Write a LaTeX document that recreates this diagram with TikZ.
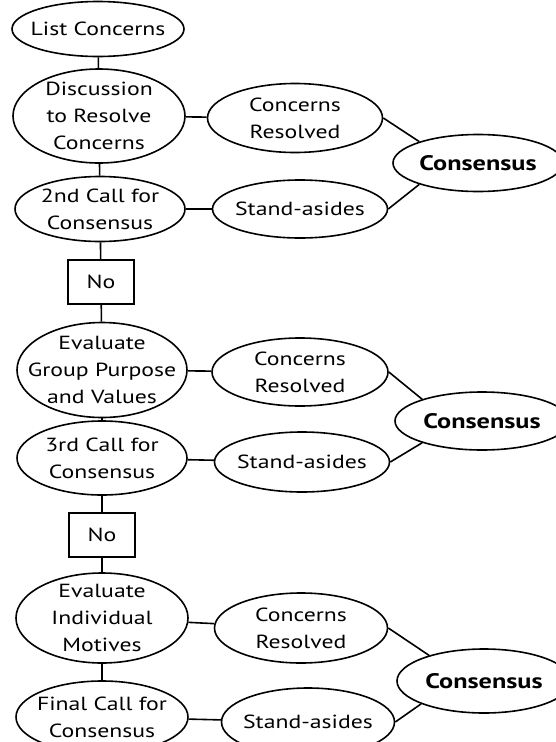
\documentclass[tikz,border=0pt]{standalone}
\usepackage{fontspec}
\setmainfont[FakeStretch=1.25]{PT Sans}
\usetikzlibrary{shapes.geometric}

\begin{document}
\begin{tikzpicture}[x=1pt,y=-1pt,line width=1.6pt,
	oval/.style={ellipse,draw,align=center,inner xsep=-20pt,inner ysep=-14pt,
		font=\fontsize{19}{27}\selectfont},
	nobox/.style={rectangle,draw,inner sep=0pt,minimum width=66pt,minimum height=44pt,
		font=\fontsize{19}{27}\selectfont},
	cons/.style={font=\fontsize{21}{27}\selectfont\bfseries},
	wh/.style 2 args={minimum width=#1pt,minimum height=#2pt}]
	\clip (0,0) rectangle (556,742);
	
	% left column
	\node[oval,wh={172}{55}] (list) at (98,29) {List Concerns};
	\node[oval,wh={172}{94}] (disc) at (99,116) {Discussion\\to Resolve\\Concerns};
	\node[oval,wh={170}{65}] (callA) at (100,209) {2nd Call for\\Consensus};
	\node[nobox] (noA) at (101,282) {No};
	\node[oval,wh={170}{95}] (grp) at (102,370) {Evaluate\\Group Purpose\\and Values};
	\node[oval,wh={170}{74}] (callB) at (102,458) {3rd Call for\\Consensus};
	\node[nobox] (noB) at (102,535) {No};
	\node[oval,wh={172}{90}] (ind) at (102,618) {Evaluate\\Individual\\Motives};
	\node[oval,wh={172}{72}] (callC) at (102,717) {Final Call for\\Consensus};
	
	% right side
	\node[oval,wh={175}{69}] (resA) at (295,118) {Concerns\\Resolved};
	\node[oval,wh={175}{58}] (sideA) at (300,209) {Stand-asides};
	\node[oval,cons,wh={170}{57}] (consA) at (478,163) {Consensus};
	\node[oval,wh={176}{68}] (resB) at (300,372) {Concerns\\Resolved};
	\node[oval,wh={175}{60}] (sideB) at (302,462) {Stand-asides};
	\node[oval,cons,wh={174}{58}] (consB) at (482,421) {Consensus};
	\node[oval,wh={173}{70}] (resC) at (301,628) {Concerns\\Resolved};
	\node[oval,wh={173}{68}] (sideC) at (308,722) {Stand-asides};
	\node[oval,cons,wh={174}{64}] (consC) at (484,681) {Consensus};
	
	\foreach \a/\b in {list/disc,disc/callA,callA/noA,noA/grp,grp/callB,callB/noB,noB/ind,ind/callC,
		disc/resA,callA/sideA,grp/resB,callB/sideB,ind/resC,callC/sideC}
		\draw (\a)--(\b);
	\draw (resA.east)--(consA.160) (sideA.east)--(consA.200)
	(resB.east)--(consB.160) (sideB.east)--(consB.200)
	(resC.east)--(consC.155) (sideC.east)--(consC.200);
\end{tikzpicture}
\end{document}
